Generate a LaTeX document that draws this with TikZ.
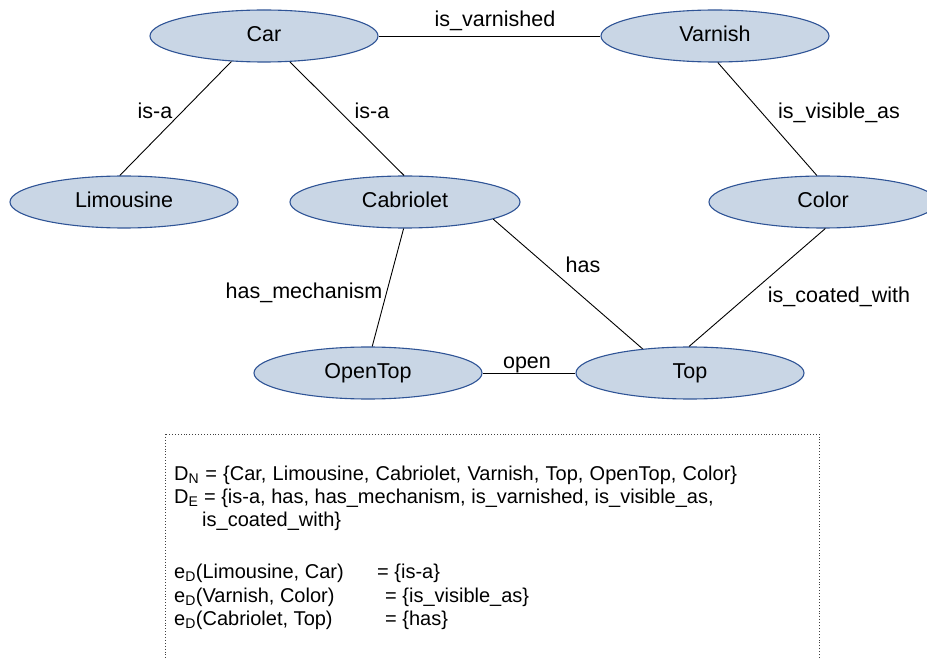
\documentclass[tikz,border=0pt]{standalone}
\usepackage{fontspec}
\setmainfont{Liberation Sans}
\usetikzlibrary{shapes.geometric}
\definecolor{conceptfill}{RGB}{201,214,229}
\definecolor{conceptline}{RGB}{47,84,150}
\tikzset{
  concept/.style={ellipse, draw=conceptline, fill=conceptfill, line width=1.1pt,
    minimum width=228pt, minimum height=52pt, inner sep=0pt,
    font=\fontsize{21.5}{24}\selectfont, text height=15.5pt, text depth=4.5pt},
  rel/.style={draw=black, line width=0.9pt},
  rellabel/.style={font=\fontsize{21.5}{24}\selectfont, inner sep=0pt, text height=15.5pt, text depth=4.5pt},
  deftext/.style={font=\fontsize{20}{24}\selectfont, inner sep=0pt, anchor=base west},
  defbox/.style={draw=black!75, dotted, line width=0.9pt}
}
\begin{document}
\begin{tikzpicture}[x=1pt, y=-1pt]
\useasboundingbox (0,0) rectangle (927,660);

% concepts
\node[concept] (car)       at (264,36)  {Car};
\node[concept] (varnish)   at (715,36)  {Varnish};
\node[concept] (limousine) at (124,202) {Limousine};
\node[concept, minimum width=230pt] (cabriolet) at (405,202) {Cabriolet};
\node[concept] (color)     at (823,202) {Color};
\node[concept] (opentop)   at (368,373) {OpenTop};
\node[concept] (top)       at (690,373) {Top};

% relations
\draw[rel] (car.east) -- (varnish.west);
\draw[rel] (car.218.9) -- (limousine.99);
\draw[rel] (car.315) -- (cabriolet.92.3);
\draw[rel] (varnish.276) -- (color.103.5);
\draw[rel] (cabriolet.267.8) -- (opentop.81.3);
\draw[rel] (cabriolet.349.7) -- (top.153.9);
\draw[rel] (color.275.6) -- (top.92.3);
\draw[rel] (opentop.east) -- (top.west);

% relation labels
\node[rellabel] (l-varn)  at (495,21)  {is\_varnished};
\node[rellabel] (l-isa1)  at (155,113) {is-a};
\node[rellabel] (l-isa2)  at (372,113) {is-a};
\node[rellabel] (l-vis)   at (839,113) {is\_visible\_as};
\node[rellabel] (l-mech)  at (304,293) {has\_mechanism};
\node[rellabel] (l-has)   at (583,267) {has};
\node[rellabel] (l-coat)  at (839,297) {is\_coated\_with};
\node[rellabel] (l-open)  at (527,363) {open};

% definition box
\draw[defbox] (165,434) rectangle (819,680);
\node[deftext] (dn)  at (174,480) {\makebox[563pt][s]{D\textsubscript{N} = \{Car, Limousine, Cabriolet, Varnish, Top, OpenTop, Color\}}};
\node[deftext] (de)  at (174,503) {D\textsubscript{E} = \{is-a, has, has\_mechanism, is\_varnished, is\_visible\_as,};
\node[deftext] (de2) at (202,526) {is\_coated\_with\}};
\node[deftext] (e1)  at (174,578) {\makebox[203pt][l]{e\textsubscript{D}(Limousine, Car)}= \{is-a\}};
\node[deftext] (e2)  at (174,602) {\makebox[211pt][l]{e\textsubscript{D}(Varnish, Color)}= \{is\_visible\_as\}};
\node[deftext] (e3)  at (174,625) {\makebox[211pt][l]{e\textsubscript{D}(Cabriolet, Top)}= \{has\}};
\end{tikzpicture}
\end{document}
